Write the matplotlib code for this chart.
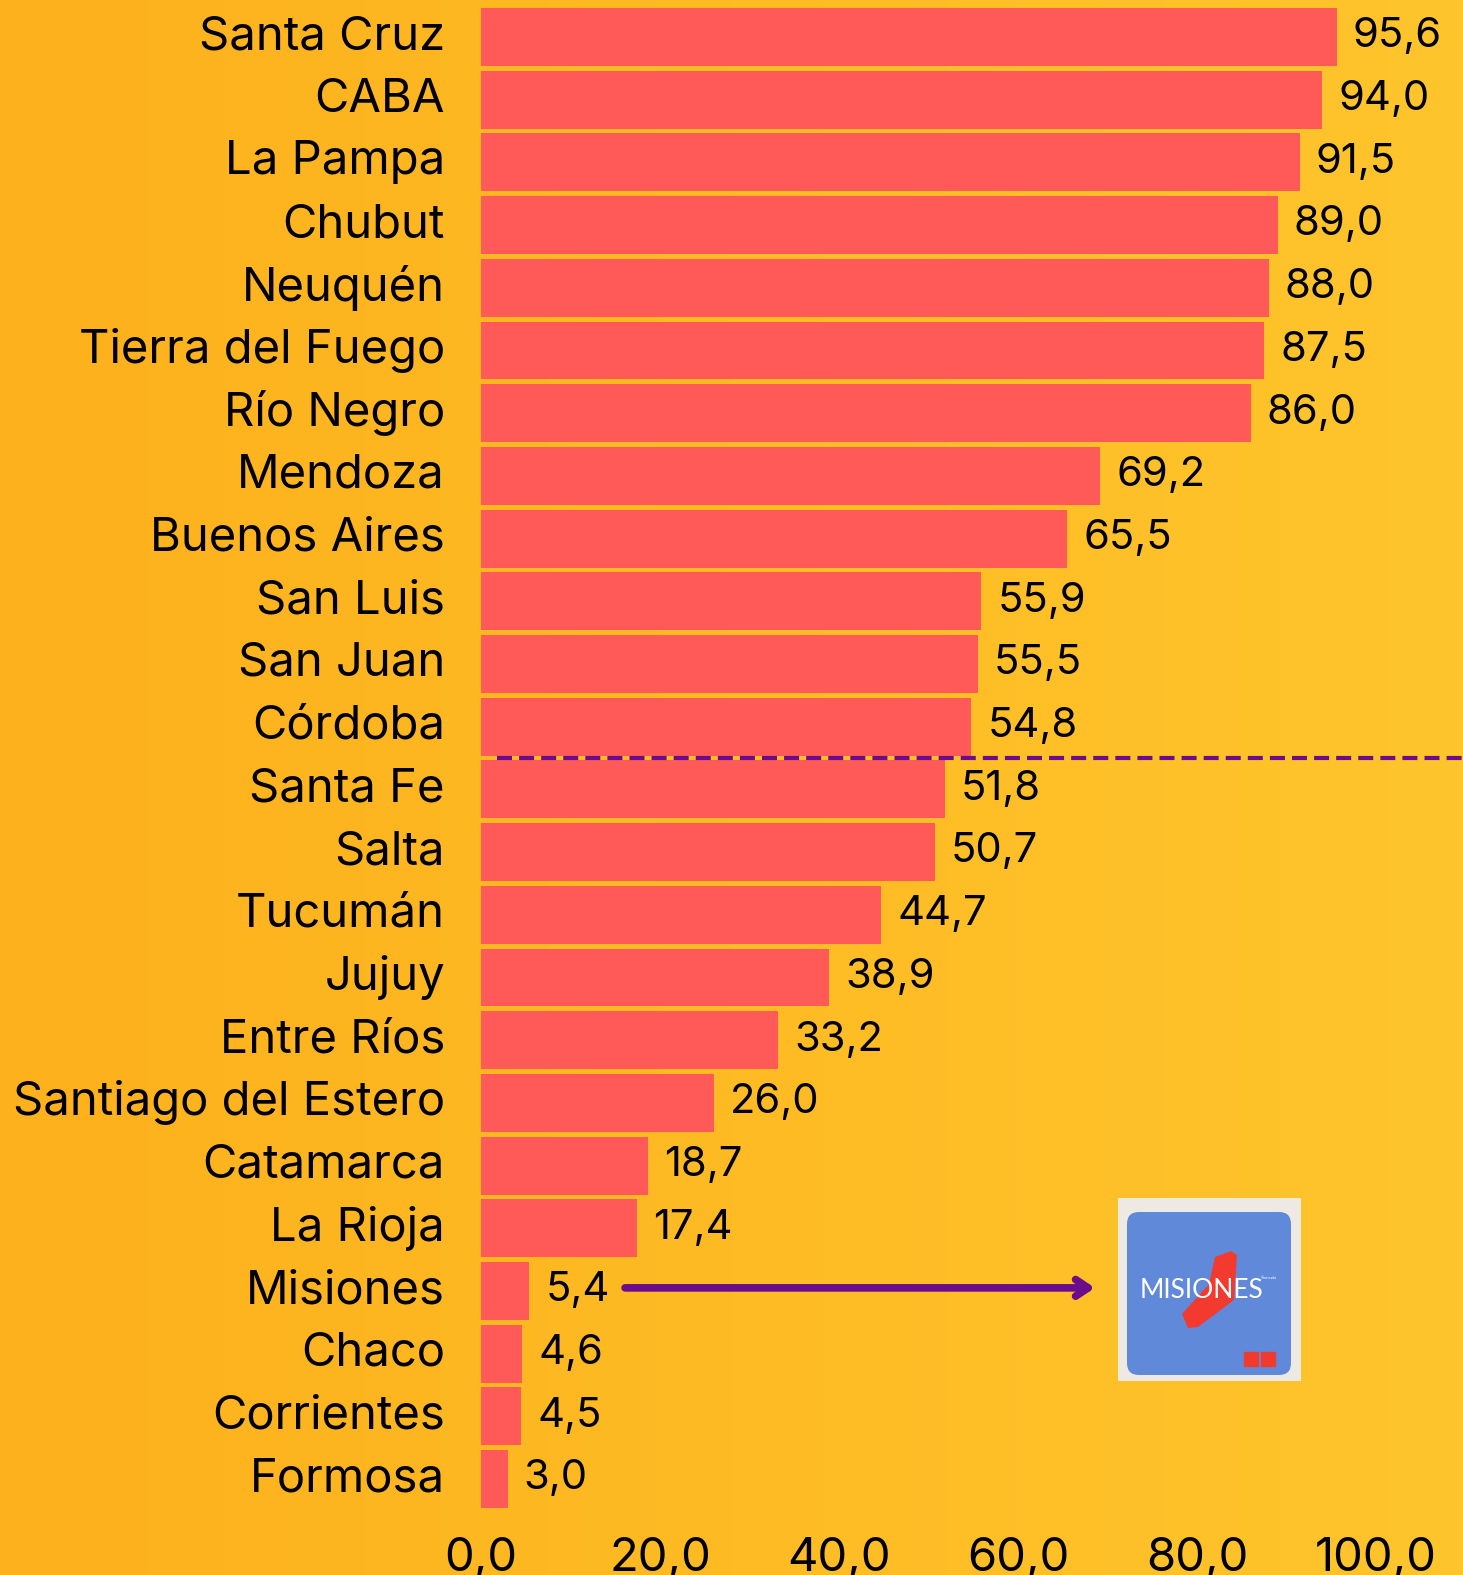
import numpy as np
import matplotlib
matplotlib.use("Agg")
import matplotlib.pyplot as plt
from matplotlib.patches import FancyBboxPatch, Polygon, Rectangle
from matplotlib.transforms import ScaledTranslation

# ---- data ----
provinces = ["Santa Cruz", "CABA", "La Pampa", "Chubut", "Neuquén", "Tierra del Fuego",
             "Río Negro", "Mendoza", "Buenos Aires", "San Luis", "San Juan", "Córdoba",
             "Santa Fe", "Salta", "Tucumán", "Jujuy", "Entre Ríos", "Santiago del Estero",
             "Catamarca", "La Rioja", "Misiones", "Chaco", "Corrientes", "Formosa"]
values = [95.6, 94.0, 91.5, 89.0, 88.0, 87.5, 86.0, 69.2, 65.5, 55.9, 55.5, 54.8,
          51.8, 50.7, 44.7, 38.9, 33.2, 26.0, 18.7, 17.4, 5.4, 4.6, 4.5, 3.0]
xticks = [0, 20, 40, 60, 80, 100]
xtick_labels = ["0,0", "20,0", "40,0", "60,0", "80,0", "100,0"]
highlight = "Misiones"

FONT = "Inter"
BAR = "#FF5A57"
PURPLE = "#6A0C8C"

W, H = 1463, 1575
fig = plt.figure(figsize=(W / 100, H / 100), dpi=100)

# gradient background
bg = fig.add_axes([0, 0, 1, 1], zorder=-10)
c0 = np.array([253, 177, 28]) / 255
c1 = np.array([255, 197, 44]) / 255
t = np.linspace(0, 1, 256)[None, :, None]
grad = c0 + (c1 - c0) * t
bg.imshow(grad, aspect="auto", extent=[0, 1, 0, 1])
bg.axis("off")

# main axes
px_per_unit = 8.95
x0_px = 481
top_idx = -37 / 62.7
bot_px = 1515
bot_idx = (bot_px - 37) / 62.7
ax = fig.add_axes([x0_px / W, 1 - bot_px / H, 1 - x0_px / W, bot_px / H])
ax.set_facecolor("none")
n = len(provinces)
y = np.arange(n)
ax.barh(y, values, height=0.925, color=BAR, zorder=2)
ax.set_xlim(0, (W - x0_px) / px_per_unit)
ax.set_ylim(bot_idx, top_idx)

ax.set_yticks(y)
ax.set_yticklabels(provinces, fontsize=34, family=FONT)
ax.set_xticks(xticks)
ax.set_xticklabels(xtick_labels, fontsize=34, family=FONT)
ax.tick_params(axis="y", length=0, pad=26)
ax.tick_params(axis="x", length=0, pad=16)
shift = ScaledTranslation(0, 5 / 100, fig.dpi_scale_trans)
for lab in ax.get_yticklabels():
    lab.set_transform(lab.get_transform() + shift)
for s in ax.spines.values():
    s.set_visible(False)

for yi, v in zip(y, values):
    ax.annotate(f"{v:.1f}".replace(".", ","), (v, yi), xytext=(11.5, 0.5),
                textcoords="offset points", va="center", ha="left",
                fontsize=30, family=FONT, color="black", zorder=3)

# dashed separator between Córdoba and Santa Fe
sep_y = provinces.index("Córdoba") + 0.5
ax.plot([1.8, 200], [sep_y, sep_y], color=PURPLE, lw=3, ls=(0, (3.6, 1.7)), zorder=4,
        solid_capstyle="butt")

# arrow to Misiones logo
mi = provinces.index(highlight)
ax.annotate("", xy=(68.6, mi - 0.05), xytext=(16.1, mi - 0.05),
            arrowprops=dict(arrowstyle="->,head_length=0.9,head_width=0.6", lw=5.5,
                            color=PURPLE, capstyle="round", joinstyle="round",
                            shrinkA=0, shrinkB=0))

# logo
lg = fig.add_axes([1118 / W, 1 - 1381 / H, 183 / W, 183 / H])
lg.set_xlim(0, 183)
lg.set_ylim(183, 0)
lg.axis("off")
lg.add_patch(Rectangle((0, 0), 183, 183, color="#EEE9E3"))
lg.add_patch(FancyBboxPatch((19, 24), 144, 143, boxstyle="round,pad=10,rounding_size=12",
                            color="#608AD9", lw=0))
lg.add_patch(Polygon([(97, 59), (113, 53), (119, 57), (116, 102), (80, 129), (70, 130),
                      (64, 116), (91, 86)], closed=True, color="#F23B2E", lw=0))
lg.text(83, 92, "MISIONES", color="white", fontsize=19, family="Lato",
        ha="center", va="center")
lg.text(143, 80, "®mercado", color="white", fontsize=2.5, family="Lato", ha="left", va="center")
lg.add_patch(Rectangle((126, 154), 14, 14, color="#F03A2E"))
lg.add_patch(Rectangle((143, 154), 14, 14, color="#F03A2E"))

fig.savefig("out.png", dpi=100)
